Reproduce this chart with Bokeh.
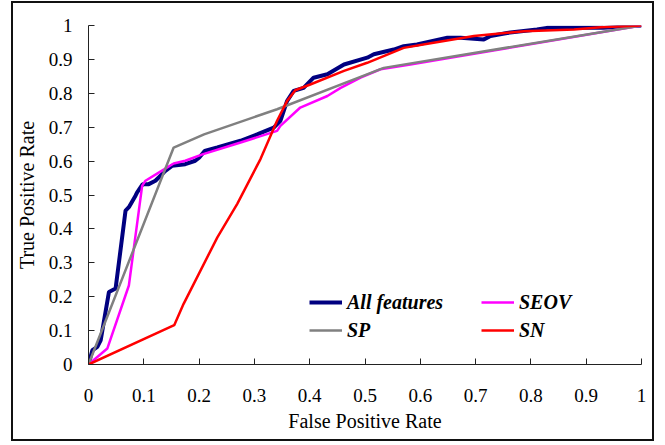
from bokeh.plotting import figure
from bokeh.models import Range1d, FixedTicker, Legend, LegendItem
from bokeh.embed import file_html
from bokeh.resources import INLINE

# ---- data ----
all_x = [0, 0.007, 0.016, 0.022, 0.037, 0.049, 0.067, 0.073, 0.085, 0.088, 0.098, 0.109, 0.121, 0.139,
         0.151, 0.175, 0.193, 0.200, 0.210, 0.233, 0.275, 0.305, 0.335, 0.347, 0.359, 0.371, 0.389, 0.407,
         0.432, 0.462, 0.504, 0.516, 0.552, 0.570, 0.594, 0.649, 0.673, 0.715, 0.727, 0.757, 0.811, 0.829,
         0.931, 1.0]
all_y = [0, 0.042, 0.052, 0.071, 0.214, 0.224, 0.454, 0.464, 0.498, 0.508, 0.532, 0.532, 0.542, 0.571,
         0.586, 0.591, 0.601, 0.610, 0.630, 0.640, 0.660, 0.679, 0.699, 0.719, 0.777, 0.807, 0.816, 0.846,
         0.856, 0.885, 0.905, 0.915, 0.929, 0.939, 0.944, 0.964, 0.964, 0.959, 0.969, 0.978, 0.988, 0.993,
         0.993, 1.0]

seov_x = [0, 0.034, 0.073, 0.097, 0.103, 0.127, 0.154, 0.175, 0.206, 0.275, 0.341, 0.347, 0.383, 0.432,
          0.456, 0.492, 0.528, 0.582, 0.673, 1.0]
seov_y = [0, 0.047, 0.233, 0.527, 0.542, 0.566, 0.593, 0.601, 0.620, 0.655, 0.689, 0.704, 0.758, 0.792,
          0.816, 0.846, 0.871, 0.885, 0.910, 1.0]

sp_x = [0, 0.154, 0.209, 0.341, 0.534, 1.0]
sp_y = [0, 0.640, 0.679, 0.753, 0.875, 1.0]

sn_x = [0, 0.155, 0.172, 0.233, 0.269, 0.311, 0.341, 0.359, 0.374, 0.401, 0.462, 0.504, 0.570, 0.624,
        0.697, 0.788, 0.878, 0.926, 1.0]
sn_y = [0, 0.116, 0.179, 0.375, 0.474, 0.606, 0.719, 0.777, 0.809, 0.826, 0.866, 0.890, 0.934, 0.949,
        0.969, 0.983, 0.988, 0.995, 1.0]

tick_vals = [0, 0.1, 0.2, 0.3, 0.4, 0.5, 0.6, 0.7, 0.8, 0.9, 1.0]
tick_labels = ["0", "0.1", "0.2", "0.3", "0.4", "0.5", "0.6", "0.7", "0.8", "0.9", "1"]
series_names = ["All features", "SEOV", "SP", "SN"]

FONT = "Liberation Serif"

p = figure(width=657, height=443, x_range=Range1d(0, 1), y_range=Range1d(0, 1),
           output_backend="svg", toolbar_location=None,
           min_border_left=88, min_border_right=16, min_border_top=25, min_border_bottom=79)
p.outline_line_color = None
p.grid.visible = False
p.background_fill_color = "white"
p.border_fill_alpha = 0

# outer chart-area border drawn behind the transparent canvas border
line_img = "linear-gradient(#111111, #111111)"
p.styles = {
    "background-color": "white",
    "background-image": ", ".join([line_img] * 4),
    "background-size": "643px 2px, 643px 2px, 2px 440px, 2px 440px",
    "background-position": "11px 1px, 11px 439px, 11px 1px, 652px 1px",
    "background-repeat": "no-repeat",
}

overrides = {v: l for v, l in zip(tick_vals, tick_labels)}
for ax in (p.xaxis[0], p.yaxis[0]):
    ax.ticker = FixedTicker(ticks=tick_vals)
    ax.major_label_overrides = overrides
    ax.minor_tick_line_color = None
    ax.major_tick_in = 6
    ax.major_tick_out = 0
    ax.axis_line_color = "#222222"
    ax.major_tick_line_color = "#222222"
    ax.major_label_text_font = FONT
    ax.major_label_text_font_size = "19px"
    ax.major_label_text_color = "black"
    ax.axis_label_text_font = FONT
    ax.axis_label_text_font_size = "20px"
    ax.axis_label_text_font_style = "normal"
    ax.axis_label_text_color = "black"

p.xaxis.axis_label = "False Positive Rate"
p.yaxis.axis_label = "True Positive Rate"
p.xaxis.major_label_standoff = 24
p.xaxis.axis_label_standoff = 5
p.yaxis.major_label_standoff = 16
p.yaxis.axis_label_standoff = 8

r_all = p.line(all_x, all_y, line_color="#000080", line_width=4)
r_seov = p.line(seov_x, seov_y, line_color="#FF00FF", line_width=2.5)
r_sp = p.line(sp_x, sp_y, line_color="#808080", line_width=2.5)
r_sn = p.line(sn_x, sn_y, line_color="#FF0000", line_width=2.5)

legend = Legend(items=[LegendItem(label=series_names[0], renderers=[r_all]),
                       LegendItem(label=series_names[1], renderers=[r_seov]),
                       LegendItem(label=series_names[2], renderers=[r_sp]),
                       LegendItem(label=series_names[3], renderers=[r_sn])],
                orientation="horizontal", ncols=2,
                location=(221, 22), padding=0, margin=0, spacing=4,
                glyph_width=33, glyph_height=20, label_standoff=5,
                label_width=130, label_height=24,
                label_text_font=FONT, label_text_font_style="bold italic",
                label_text_font_size="20px", label_text_color="black",
                border_line_color=None, background_fill_alpha=0)
p.add_layout(legend)

open("out.html", "w").write(file_html(p, INLINE))
